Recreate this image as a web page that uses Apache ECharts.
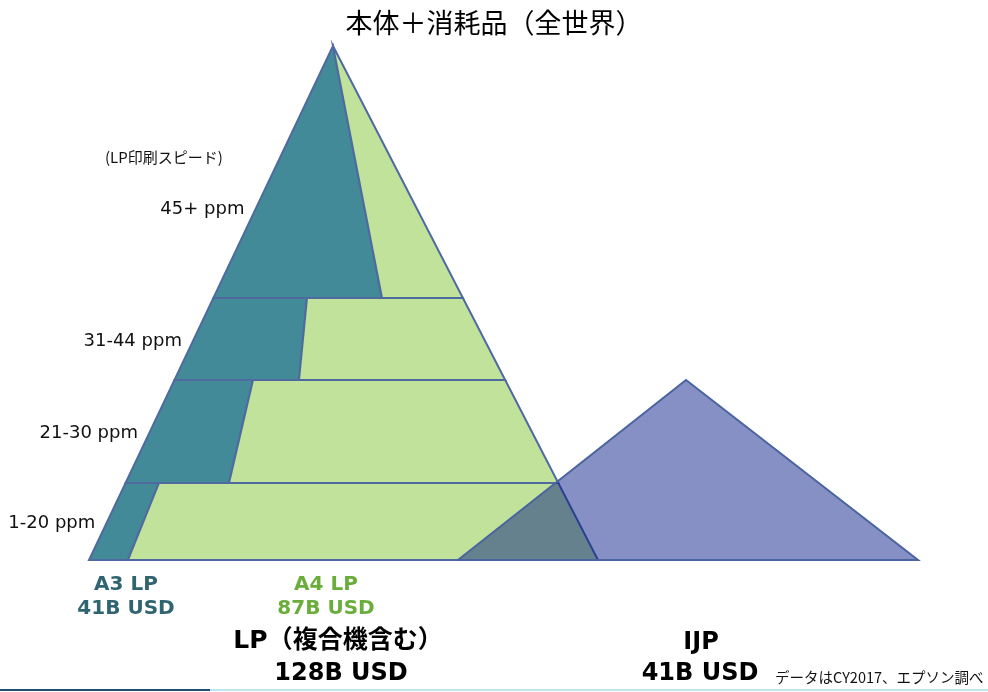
<!DOCTYPE html>
<html>
<head>
<meta charset="utf-8">
<script src="https://cdn.jsdelivr.net/npm/echarts@6/dist/echarts.min.js"></script>
<style>
html,body{margin:0;padding:0;background:#fff;}
#chart{width:988px;height:692px;}
</style>
</head>
<body>
<div id="chart"></div>
<script>
// ---- data (chart units: x across, height above the pyramid base) ----
const tierNames = ['1-20 ppm', '21-30 ppm', '31-44 ppm', '45+ ppm'];
const tierLevels = [0, 77, 180, 262, 514];          // tier boundaries (height)
const lpBaseLeft = 89, lpBaseRight = 598, lpApexX = 333, lpHeight = 514;
const a3SplitBottom = [128, 229, 299, 382];          // A3/A4 split at bottom of each tier
const a3SplitTop = [159, 253, 307, 333];             // A3/A4 split at top of each tier
const ijpBaseLeft = 458, ijpBaseRight = 918, ijpApexX = 686, ijpHeight = 180;
const segmentNames = ['A3 LP', 'A4 LP'];
const segmentValues = ['41B USD', '87B USD'];
const lpTotal = '128B USD';
const ijpTotal = '41B USD';

const EDGE = '#4F6AA0';
const A3C = '#438A98';
const A4C = '#C0E29A';

function leftX(h) { return lpBaseLeft + (lpApexX - lpBaseLeft) * h / lpHeight; }
function rightX(h) { return lpBaseRight - (lpBaseRight - lpApexX) * h / lpHeight; }

const chart = echarts.init(document.getElementById('chart'), null, {renderer: 'canvas'});
const latin = '"DejaVu Sans", "Noto Sans CJK JP", sans-serif';
const cjk = '"Noto Sans CJK JP", sans-serif';

const option = {
  animation: false,
  backgroundColor: '#ffffff',
  title: {
    text: '本体＋消耗品（全世界）',
    left: 'center',
    top: 4,
    textStyle: {fontSize: 27, fontWeight: 'normal', color: '#000', fontFamily: cjk}
  },
  grid: {left: 0, right: 0, top: 46, bottom: 132},
  xAxis: {type: 'value', min: 0, max: 988, show: false},
  yAxis: {type: 'value', min: 0, max: 514, show: false},
  series: [
    {
      name: 'A3 LP',
      type: 'custom',
      z: 2,
      data: tierNames.map((n, i) => [i]),
      renderItem: function (params, api) {
        const i = params.dataIndex;
        const h0 = tierLevels[i], h1 = tierLevels[i + 1];
        const pts = [
          api.coord([leftX(h0), h0]),
          api.coord([a3SplitBottom[i], h0]),
          api.coord([a3SplitTop[i], h1]),
          api.coord([leftX(h1), h1])
        ];
        const hl = i === tierNames.length - 1 ? h0 + (h1 - h0) * 0.36 : (h0 + h1) / 2;
        const lp = api.coord([leftX(hl), hl]);
        return {
          type: 'group',
          children: [
            {type: 'polygon', shape: {points: pts}, style: {fill: A3C, stroke: EDGE, lineWidth: 2}},
            {type: 'text', x: lp[0] - 12, y: lp[1] + 2,
             style: {text: tierNames[i], fill: '#111', font: '18px ' + latin, align: 'right', verticalAlign: 'middle'}}
          ]
        };
      }
    },
    {
      name: 'A4 LP',
      type: 'custom',
      z: 2,
      data: tierNames.map((n, i) => [i]),
      renderItem: function (params, api) {
        const i = params.dataIndex;
        const h0 = tierLevels[i], h1 = tierLevels[i + 1];
        const pts = [
          api.coord([a3SplitBottom[i], h0]),
          api.coord([rightX(h0), h0]),
          api.coord([rightX(h1), h1]),
          api.coord([a3SplitTop[i], h1])
        ];
        return {type: 'polygon', shape: {points: pts}, style: {fill: A4C, stroke: EDGE, lineWidth: 2}};
      }
    },
    {
      name: 'IJP',
      type: 'custom',
      z: 3,
      data: [[0]],
      renderItem: function (params, api) {
        const pts = [
          api.coord([ijpBaseLeft, 0]),
          api.coord([ijpBaseRight, 0]),
          api.coord([ijpApexX, ijpHeight])
        ];
        return {type: 'polygon', shape: {points: pts},
          style: {fill: 'rgba(0,20,130,0.47)', stroke: '#4A64A0', lineWidth: 2}};
      }
    }
  ],
  graphic: [
    {type: 'text', x: 105, y: 157, style: {text: '(LP印刷スピード)', font: '15px ' + cjk, fill: '#111', verticalAlign: 'middle'}},
    {type: 'text', x: 126, y: 585, style: {text: segmentNames[0], font: 'bold 20px ' + latin, fill: '#2F6470', align: 'center', verticalAlign: 'middle'}},
    {type: 'text', x: 126, y: 609, style: {text: segmentValues[0], font: 'bold 20px ' + latin, fill: '#2F6470', align: 'center', verticalAlign: 'middle'}},
    {type: 'text', x: 326, y: 585, style: {text: segmentNames[1], font: 'bold 20px ' + latin, fill: '#6AAD3A', align: 'center', verticalAlign: 'middle'}},
    {type: 'text', x: 326, y: 609, style: {text: segmentValues[1], font: 'bold 20px ' + latin, fill: '#6AAD3A', align: 'center', verticalAlign: 'middle'}},
    {type: 'text', x: 338, y: 641, style: {text: 'LP（複合機含む）', font: 'bold 25px ' + latin, fill: '#000', align: 'center', verticalAlign: 'middle'}},
    {type: 'text', x: 341, y: 674, style: {text: lpTotal, font: 'bold 24px ' + latin, fill: '#000', align: 'center', verticalAlign: 'middle'}},
    {type: 'text', x: 701, y: 643, style: {text: 'IJP', font: 'bold 24px ' + latin, fill: '#000', align: 'center', verticalAlign: 'middle'}},
    {type: 'text', x: 700, y: 674, style: {text: ijpTotal, font: 'bold 24px ' + latin, fill: '#000', align: 'center', verticalAlign: 'middle'}},
    {type: 'text', x: 775, y: 677, style: {text: 'データはCY2017、エプソン調べ', font: '14.5px ' + cjk, fill: '#111', verticalAlign: 'middle'}},
    {type: 'rect', shape: {x: 0, y: 689, width: 210, height: 2}, style: {fill: '#1F4E79'}},
    {type: 'rect', shape: {x: 210, y: 689, width: 778, height: 2}, style: {fill: '#BFE4EC'}}
  ]
};
chart.setOption(option);
</script>
</body>
</html>
